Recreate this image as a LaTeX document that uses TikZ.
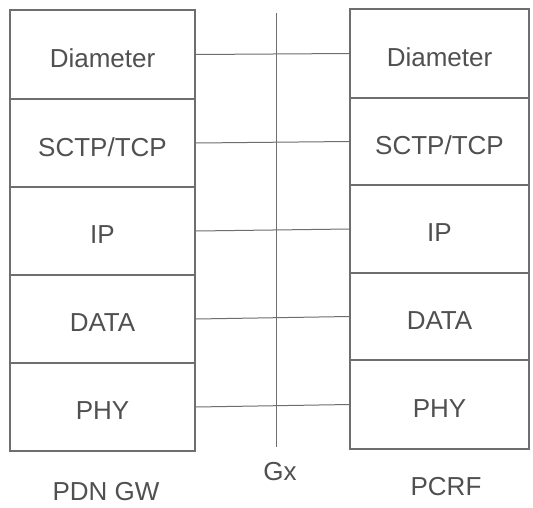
\documentclass[tikz,border=0pt]{standalone}
\usepackage{fontspec}
\setmainfont{Liberation Sans}
\definecolor{ln}{HTML}{6E6E6E}
\definecolor{tx}{HTML}{505050}
\tikzset{
  layerL/.style={draw=ln, line width=1.2pt, minimum width=185pt, inner sep=0pt, text=tx, font=\fontsize{26}{30}\selectfont},
  layerR/.style={draw=ln, line width=1.2pt, minimum width=179pt, inner sep=0pt, text=tx, font=\fontsize{26}{30}\selectfont},
  link/.style={draw=ln, line width=1pt},
  captext/.style={text=tx, inner sep=0pt, font=\fontsize{26}{30}\selectfont}
}
\newcommand{\lowtxt}[1]{\raisebox{-4pt}[\height][0pt]{#1}}
\begin{document}
\begin{tikzpicture}[x=1pt,y=-1pt]
\useasboundingbox (0,0) rectangle (533,507);
\fill[white] (0,0) rectangle (533,507);
% left stack (PDN GW)
\node[layerL, minimum height=89pt] (l1) at (102.5,54.5) {\lowtxt{Diameter}};
\node[layerL, minimum height=88pt] (l2) at (102.5,143) {\lowtxt{SCTP/TCP}};
\node[layerL, minimum height=88pt] (l3) at (102.5,231) {\lowtxt{IP}};
\node[layerL, minimum height=88pt] (l4) at (102.5,319) {\lowtxt{DATA}};
\node[layerL, minimum height=88pt] (l5) at (102.5,407) {\lowtxt{PHY}};
% right stack (PCRF)
\node[layerR, minimum height=89pt] (r1) at (439.5,53.5) {\lowtxt{Diameter}};
\node[layerR, minimum height=87pt] (r2) at (439.5,141.5) {\lowtxt{SCTP/TCP}};
\node[layerR, minimum height=88pt] (r3) at (439.5,229) {\lowtxt{IP}};
\node[layerR, minimum height=87pt] (r4) at (439.5,316.5) {\lowtxt{DATA}};
\node[layerR, minimum height=89pt] (r5) at (439.5,404.5) {\lowtxt{PHY}};
% Gx reference line
\coordinate (gt) at (276,13);
\coordinate (gb) at (276,447);
\draw[link] (gt) -- (gb);
% peer links
\draw[link] (l1.east) -- (r1.west);
\draw[link] (l2.east) -- (r2.west);
\draw[link] (l3.east) -- (r3.west);
\draw[link] (l4.east) -- (r4.west);
\draw[link] (l5.east) -- (r5.west);
% captions
\node[captext] (pdn) at (106,492) {PDN GW};
\node[captext] (gx) at (280,472) {Gx};
\node[captext] (pcrf) at (446,487) {PCRF};
\end{tikzpicture}
\end{document}
